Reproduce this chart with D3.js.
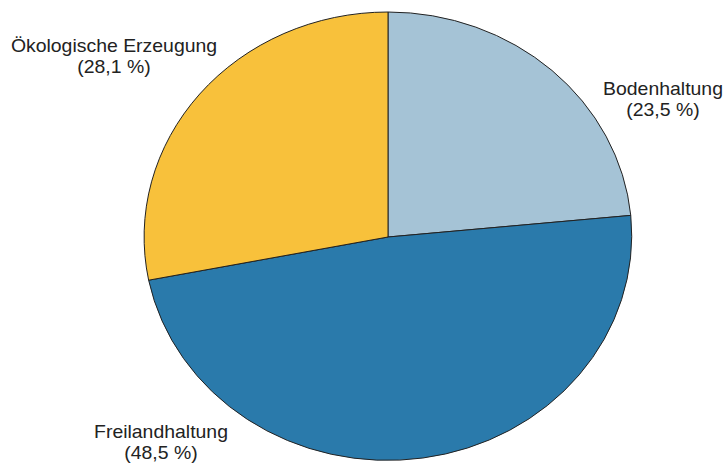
<!DOCTYPE html>
<html><head><meta charset="utf-8">
<script src="https://cdn.jsdelivr.net/npm/d3@7"></script>
<style>body{margin:0;background:#fff}svg{display:block}</style>
</head><body><svg id="c" width="724" height="463"></svg>
<script>
const categories = ["Bodenhaltung", "Freilandhaltung", "Ökologische Erzeugung"];
const values = [23.5, 48.5, 28.1];
const valueLabels = ["(23,5 %)", "(48,5 %)", "(28,1 %)"];
const colors = ["#a5c3d6", "#2a7aab", "#f8c13b"];

const W = 724, H = 463;
const cx = 388, cy = 237, rx = 244, ry = 225;
const svg = d3.select("#c");
const pie = d3.pie().sort(null).value(d => d)(values);
const arc = d3.arc().innerRadius(0).outerRadius(1);

const g = svg.append("g").attr("transform", `translate(${cx},${cy}) scale(${rx},${ry})`);
g.selectAll("path").data(pie).join("path")
  .attr("d", arc)
  .attr("fill", (d, i) => colors[i])
  .attr("stroke", "#222")
  .attr("stroke-width", 1)
  .attr("vector-effect", "non-scaling-stroke");

const labelPos = [[663, 95], [161, 438], [114, 52]];
const tg = svg.append("g").attr("font-family", "Liberation Sans, Arial, sans-serif")
  .attr("font-size", 18).attr("fill", "#222").attr("text-anchor", "middle");
categories.forEach((c, i) => {
  const t = tg.append("text")
    .attr("transform", `translate(${labelPos[i][0]},${labelPos[i][1]}) scale(1.08,1)`);
  t.append("tspan").attr("x", 0).attr("y", 0).text(c);
  t.append("tspan").attr("x", 0).attr("dy", 21).text(valueLabels[i]);
});
</script></body></html>
